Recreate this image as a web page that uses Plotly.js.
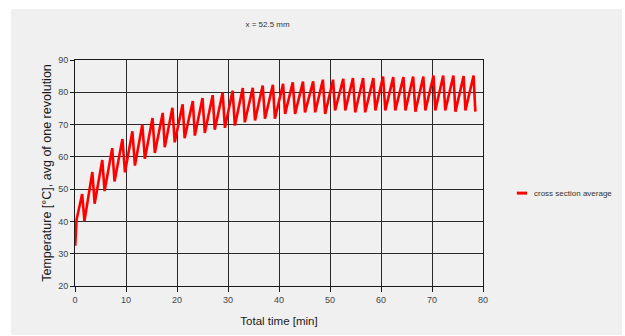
<!DOCTYPE html>
<html>
<head>
<meta charset="utf-8">
<script src="https://cdn.plot.ly/plotly-3.0.1.min.js"></script>
<style>
  html, body { margin:0; padding:0; background:#ffffff; width:625px; height:336px; overflow:hidden; }
  #chart { position:absolute; left:11px; top:9px; width:611px; height:326px; }
</style>
</head>
<body>
<div id="chart"></div>
<script>
// Start of the run (min, °C)
const startTime = [0.05, 0.3];
const startTemp = [32.5, 40.5];
// Peaks of each cycle (min, °C)
const peakTime = [1.4, 3.4, 5.35, 7.3, 9.3, 11.25, 13.2, 15.2, 17.2, 19.1,
  21.1, 23.1, 25.0, 27.0, 28.95, 30.9, 32.9, 34.85, 36.8, 38.8,
  40.8, 42.7, 44.7, 46.7, 48.6, 50.6, 52.6, 54.5, 56.5, 58.5,
  60.4, 62.4, 64.4, 66.3, 68.3, 70.3, 72.2, 74.2, 76.2, 78.15];
const peakTemp = [48.5, 55.3, 59.0, 62.7, 65.5, 67.9, 70.0, 72.0, 73.6, 75.2,
  76.3, 77.3, 78.2, 79.1, 79.9, 80.5, 81.3, 81.4, 82.1, 82.3,
  82.6, 83.1, 83.3, 83.4, 83.9, 83.9, 84.2, 84.4, 84.4, 84.4,
  84.9, 84.7, 84.7, 84.9, 84.9, 85.2, 85.2, 85.2, 85.0, 85.2];
// Troughs after each peak (min, °C)
const troughTime = [1.85, 3.85, 5.8, 7.75, 9.8, 11.75, 13.7, 15.65, 17.6, 19.55,
  21.5, 23.5, 25.45, 27.4, 29.4, 31.35, 33.3, 35.3, 37.25, 39.2,
  41.2, 43.15, 45.1, 47.1, 49.05, 51.0, 53.0, 54.95, 56.9, 58.9,
  60.85, 62.8, 64.8, 66.75, 68.7, 70.65, 72.6, 74.6, 76.55, 78.5];
const troughTemp = [40.1, 45.5, 49.4, 52.4, 55.2, 57.3, 59.4, 61.2, 63.0, 64.5,
  65.8, 66.6, 67.4, 68.4, 69.0, 69.7, 70.7, 71.3, 71.8, 71.8,
  73.3, 73.3, 73.8, 73.8, 73.3, 74.4, 74.4, 73.8, 73.8, 74.4,
  74.4, 74.4, 74.4, 74.0, 74.4, 74.4, 74.4, 74.0, 74.4, 74.0];

const xTicks = [0, 10, 20, 30, 40, 50, 60, 70, 80];
const yTicks = [20, 30, 40, 50, 60, 70, 80, 90];
const seriesName = 'cross section average';

const xs = startTime.slice();
const ys = startTemp.slice();
for (let i = 0; i < peakTime.length; i++) {
  xs.push(peakTime[i], troughTime[i]);
  ys.push(peakTemp[i], troughTemp[i]);
}

const FONT = '"Liberation Sans", Arial, sans-serif';
const trace = {
  x: xs, y: ys, type: 'scatter', mode: 'lines', name: seriesName,
  line: { color: '#ff0000', width: 2.6 }, showlegend: false
};

const layout = {
  width: 611, height: 326,
  margin: { l: 64, r: 139, t: 51, b: 49 },
  paper_bgcolor: '#f0f0f0', plot_bgcolor: '#f0f0f0',
  font: { family: FONT, color: '#333333', size: 9 },
  title: { text: 'x = 52.5 mm', font: { family: FONT, size: 8, color: '#333' },
    xref: 'paper', x: 0.472, xanchor: 'center', yref: 'container', y: 0.954, yanchor: 'middle' },
  xaxis: {
    range: [0, 80], tickvals: xTicks, ticktext: xTicks.map(String),
    showgrid: true, gridcolor: '#2a2a2a', gridwidth: 1,
    showline: true, linecolor: '#1a1a1a', linewidth: 1, mirror: true,
    ticks: 'outside', ticklen: 5, tickcolor: '#1a1a1a',
    zeroline: false, tickfont: { size: 9, color: '#444' },
    title: { text: 'Total time [min]', font: { size: 11.5, color: '#1a1a1a' }, standoff: 13 }
  },
  yaxis: {
    range: [20, 90], tickvals: yTicks, ticktext: yTicks.map(String),
    showgrid: true, gridcolor: '#2a2a2a', gridwidth: 1,
    showline: true, linecolor: '#1a1a1a', linewidth: 1, mirror: true,
    ticks: 'outside', ticklen: 4, tickcolor: '#1a1a1a',
    zeroline: false, tickfont: { size: 9, color: '#444' },
    title: { text: 'Temperature [°C], avg of one revolution', font: { size: 12.5, color: '#1a1a1a' }, standoff: 3 }
  },
  shapes: [{
    type: 'line', xref: 'paper', yref: 'paper',
    x0: 1.083, x1: 1.108, y0: 0.411, y1: 0.411,
    line: { color: '#ff0000', width: 3 }
  }],
  annotations: [{
    text: seriesName, xref: 'paper', yref: 'paper', x: 1.12, y: 0.411,
    xanchor: 'left', yanchor: 'middle', showarrow: false,
    font: { family: FONT, size: 8, color: '#333' }
  }]
};

Plotly.newPlot('chart', [trace], layout, { displayModeBar: false, staticPlot: true });
</script>
</body>
</html>
